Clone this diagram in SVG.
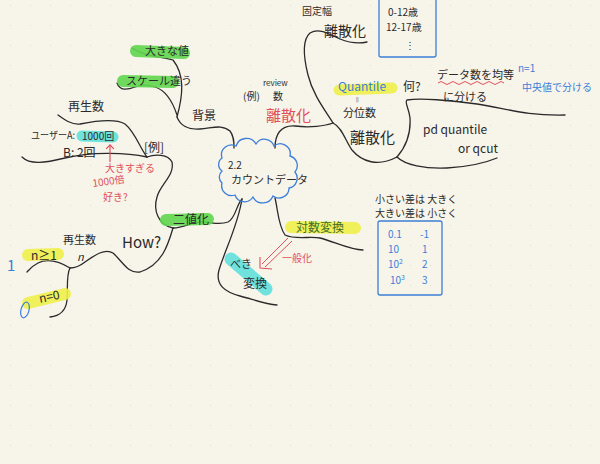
<svg xmlns="http://www.w3.org/2000/svg" width="600" height="464" viewBox="0 0 600 464">
<defs>
<pattern id="dots" x="10" y="5" width="20" height="20" patternUnits="userSpaceOnUse">
<circle cx="0" cy="0" r="0.9" fill="#d6d2c6"/>
</pattern>
<marker id="redHead" viewBox="0 0 10 10" refX="5" refY="5" markerWidth="8" markerHeight="8" orient="auto-start-reverse">
<path d="M1,1 L5,5 L1,9" fill="none" stroke="#e0505a" stroke-width="1.3"/>
</marker>
</defs>
<style>
text{font-family:"Noto Sans CJK JP","Noto Sans",sans-serif;fill:#2a2a2a}
.t{font-size:12px}
.s{font-size:10px}
.l{font-size:15px}
.red{fill:#e0505a}
.blue{fill:#3d7fd8}
.green{fill:#3f6f2a}
.ln{fill:none;stroke:#2a2a2a;stroke-width:1.3;stroke-linecap:round;stroke-linejoin:round}
.hg{stroke:#5fd64e;stroke-linecap:round;fill:none;opacity:0.9}
.hy{stroke:#eef04a;stroke-linecap:round;fill:none;opacity:0.9}
.hc{stroke:#5fe0dc;stroke-linecap:round;fill:none;opacity:0.9}
.box{fill:none;stroke:#3d7fd8;stroke-width:1.3}
</style>
<rect width="600" height="464" fill="#f7f4ea"/>
<rect width="600" height="464" fill="url(#dots)"/>

<g id="connectors">
<path class="ln" d="M177,117 C183,95 185,75 173,60 C160,56 145,57 132,48"/>
<path class="ln" d="M177,115 C172,100 165,90 155,87 C148,85 143,84 135,87 C127,90 120,91 117,83"/>
<path class="ln" d="M177,117 C180,125 188,130 200,129 C213,128 222,124 230,131 C234,136 234,142 234,148"/>
<path class="ln" d="M58,115 C65,120 72,125 80,124 C95,121 115,118 125,124 C135,132 140,148 147,157"/>
<path class="ln" d="M22,157 C30,165 45,163 65,158 C90,152 125,152 147,157"/>
<path class="ln" d="M147,157 C155,154 168,154 172,162 C175,175 160,185 157,197 C153,210 158,225 173,228"/>
<path class="ln" d="M173,228 C185,228 195,220 205,222 C215,223 220,225 228,222 C236,218 236,205 242,199"/>
<path class="ln" d="M173,228 C168,245 162,265 140,272 C128,274 123,262 113,253 C105,248 95,255 85,262 C80,266 75,268 70,268"/>
<path class="ln" d="M70,268 C60,262 48,258 38,263 C32,266 29,270 27,272"/>
<path class="ln" d="M70,268 C66,275 68,290 67,300 C66,310 60,316 50,317"/>
<path class="ln" d="M242,199 C238,225 225,250 219,270 C215,285 225,292 240,296 C255,300 265,304 277,305"/>
<path class="ln" d="M275,198 C278,210 278,225 285,235 C295,240 310,236 320,238 C335,242 350,250 363,250"/>
<path class="ln" d="M275,148 C275,135 280,125 295,126 C310,128 325,126 333,123"/>
<path class="ln" d="M333,123 C325,110 313,95 308,75 C303,55 302,40 310,33 C320,27 330,35 340,39 C350,43 358,44 367,42"/>
<path class="ln" d="M333,123 C342,127 346,142 352,150 C362,162 378,167 397,157"/>
<path class="ln" d="M397,157 C405,148 411,135 410,118 C409,108 404,102 407,100 C420,98 450,100 477,104 C505,108 525,116 565,115"/>
<path class="ln" d="M397,157 C405,165 425,169 447,168 C465,167 485,163 497,158"/>
</g>

<g id="center">
<path d="M222,158 a10,10 0 0 1 14,-12 a11,11 0 0 1 20,-2 a10,10 0 0 1 18,2 a10,10 0 0 1 16,10 a10,10 0 0 1 5,16 a10,10 0 0 1 -6,16 a10,10 0 0 1 -16,8 a11,11 0 0 1 -20,1 a10,10 0 0 1 -18,-2 a10,10 0 0 1 -13,-12 a8,8 0 0 1 0,-12 a8,8 0 0 1 0,-13 z" fill="none" stroke="#3d7fd8" stroke-width="1.3"/>
<text class="s" x="228" y="169">2.2</text>
<text class="t" x="231" y="184" style="font-size:11px">カウントデータ</text>
</g>

<g id="haikei">
<line class="hg" x1="136" y1="51" x2="184" y2="53" stroke-width="12"/>
<text class="t" x="145" y="55" style="font-size:11px">大きな値</text>
<line class="hg" x1="123" y1="81" x2="173" y2="82" stroke-width="12"/>
<text class="t" x="126" y="85" style="font-size:11px">スケール違う</text>
<text class="t" x="192" y="120">背景</text>
</g>

<g id="rei">
<text class="t" x="68" y="111">再生数</text>
<text class="s" x="31" y="139" textLength="44" lengthAdjust="spacingAndGlyphs">ユーザーA:</text>
<line class="hc" x1="82" y1="136" x2="113" y2="137" stroke-width="11"/>
<text class="s" x="82" y="140">1000回</text>
<text class="t" x="63" y="157">B: 2回</text>
<text class="t" x="144" y="152">[例]</text>
<line x1="110" y1="162" x2="110" y2="145" stroke="#e0505a" stroke-width="1.2" marker-end="url(#redHead)"/>
<text class="s red" x="105" y="172">大きすぎる</text>
<text class="s red" x="93" y="187" transform="rotate(-8 93 187)">1000倍</text>
<text class="s red" x="103" y="201">好き?</text>
</g>

<g id="nichika">
<line class="hg" x1="166" y1="220" x2="208" y2="219" stroke-width="12"/>
<text class="t" x="173" y="224">二値化</text>
<text class="t" x="63" y="244" style="font-size:11px">再生数</text>
<text class="t" x="77" y="261" font-style="italic" style="font-size:11px">n</text>
<text class="l" x="122" y="248">How?</text>
<line class="hy" x1="28" y1="255" x2="58" y2="254" stroke-width="12"/>
<text class="t" x="31" y="260">n≥1</text>
<text class="l blue" x="7" y="271">1</text>
<line class="hy" x1="28" y1="303" x2="65" y2="294" stroke-width="12"/>
<text class="t" x="40" y="303" transform="rotate(-12 40 303)">n=0</text>
<ellipse cx="25" cy="310" rx="4" ry="8" fill="none" stroke="#3d7fd8" stroke-width="1.2" transform="rotate(15 25 310)"/>
</g>

<g id="beki">
<line class="hc" x1="231" y1="259" x2="266" y2="289" stroke-width="13"/>
<text class="t" x="230" y="268" style="font-size:11px">べき</text>
<text class="t" x="243" y="288">変換</text>
</g>

<g id="taisu">
<line class="hy" x1="291" y1="227" x2="355" y2="228" stroke-width="12"/>
<text class="t green" x="296" y="232">対数変換</text>
<line x1="288" y1="238" x2="262" y2="264" stroke="#e0505a" stroke-width="1"/>
<line x1="292" y1="241" x2="265" y2="267" stroke="#e0505a" stroke-width="1"/>
<path d="M260,257 L260,268 L272,269" fill="none" stroke="#e0505a" stroke-width="1.1"/>
<text class="s red" x="282" y="262">一般化</text>
<text class="s" x="375" y="203">小さい差は 大きく</text>
<text class="s" x="375" y="217">大きい差は 小さく</text>
<rect class="box" x="378" y="221" width="64" height="74" rx="2"/>
<text class="s blue" x="388" y="238">0.1</text>
<text class="s blue" x="420" y="238">-1</text>
<text class="s blue" x="388" y="253">10</text>
<text class="s blue" x="422" y="253">1</text>
<text class="s blue" x="388" y="268">10<tspan dy="-4" style="font-size:7px">2</tspan></text>
<text class="s blue" x="422" y="268">2</text>
<text class="s blue" x="390" y="284">10<tspan dy="-4" style="font-size:7px">3</tspan></text>
<text class="s blue" x="422" y="284">3</text>
</g>

<g id="rikasanka">
<text class="s" x="263" y="86" style="font-size:8px">review</text>
<text class="s" x="243" y="100">(例)</text>
<text class="s" x="273" y="100">数</text>
<text class="l red" x="266" y="121">離散化</text>
</g>

<g id="koteihaba">
<text class="s" x="302" y="15">固定幅</text>
<text class="t" x="324" y="36" style="font-size:14px">離散化</text>
<rect class="box" x="379" y="-4" width="57" height="61" rx="2"/>
<text class="s" x="388" y="16">0-12歳</text>
<text class="s" x="386" y="31">12-17歳</text>
<text class="s" x="405" y="49">⋮</text>
</g>

<g id="quantile">
<line class="hy" x1="339" y1="90" x2="392" y2="88" stroke-width="11"/>
<text class="t blue" x="338" y="91">Quantile</text>
<text x="356" y="101" style="font-size:5px">||</text>
<text class="t" x="343" y="117" style="font-size:11px">分位数</text>
<text class="l" x="350" y="143">離散化</text>
<text class="t" x="403" y="91">何?</text>
<text class="t" x="437" y="79" style="font-size:11px">データ数を均等</text>
<path d="M438,83 q3,-3 6,0 t6,0 t6,0 t6,0 t6,0 t6,0 t6,0 t6,0 t6,0 t6,0 t6,0" fill="none" stroke="#e0505a" stroke-width="1"/>
<text class="t" x="443" y="101" style="font-size:11px">に分ける</text>
<text class="s blue" x="518" y="72">n=1</text>
<text class="s blue" x="522" y="91">中央値で分ける</text>
<text class="t" x="423" y="134">pd quantile</text>
<text class="t" x="458" y="153">or qcut</text>
</g>
</svg>
